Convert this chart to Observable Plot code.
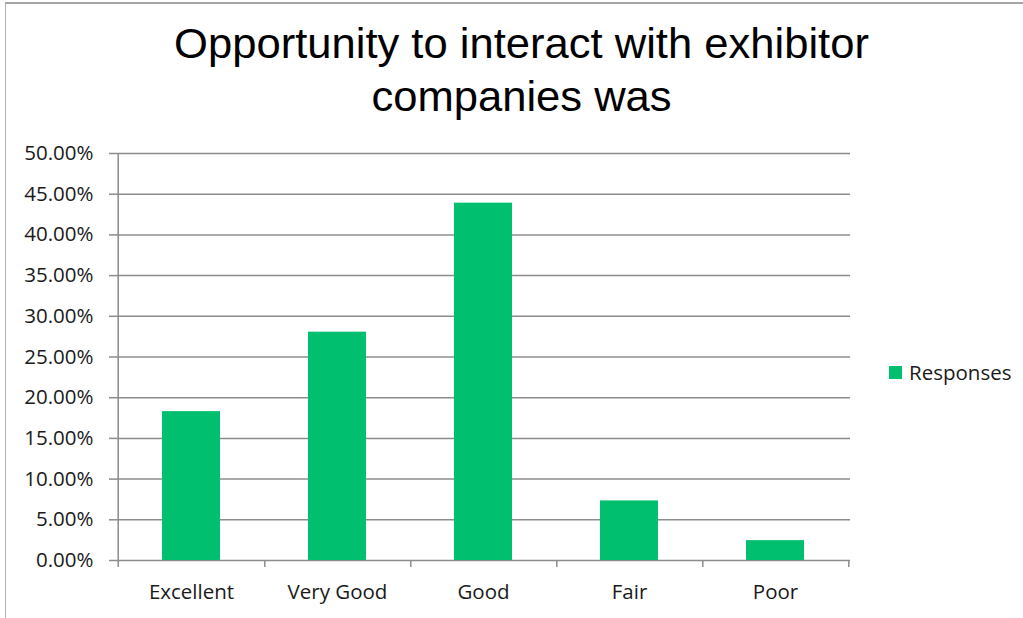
<!DOCTYPE html>
<html>
<head>
<meta charset="utf-8">
<script src="https://cdn.jsdelivr.net/npm/d3@7"></script>
<script src="https://cdn.jsdelivr.net/npm/@observablehq/plot@0.6"></script>
<style>
  html, body { margin: 0; padding: 0; background: #fff; }
  #wrap { position: relative; width: 1023px; height: 618px; overflow: hidden; background: #fff; }
  #frame { position: absolute; left: 5px; top: 2px; width: 1030px; height: 640px;
           border-top: 2px solid #a6a6a6; border-left: 1.5px solid #b0b0b0; box-sizing: border-box; }
  #title { position: absolute; left: 0; top: 18px; width: 1043px; text-align: center;
           font-family: "Liberation Sans", Arial, sans-serif; font-size: 42px; line-height: 52.5px; color: #000;
           transform: scaleX(1.037); transform-origin: 521px 0; }
  #chart { position: absolute; left: 0; top: 130px; }
  #legend { position: absolute; left: 889px; top: 358px; font-family: "Open Sans", sans-serif;
            font-size: 20.5px; color: #1a1a1a; display: flex; align-items: center; }
  #legend .sw { width: 13px; height: 13px; margin-right: 7px; }
</style>
</head>
<body>
<div id="wrap">
  <div id="frame"></div>
  <div id="title"></div>
  <div id="chart"></div>
  <div id="legend"></div>
</div>
<script>
const titleLines = ["Opportunity to interact with exhibitor", "companies was"];
const categories = ["Excellent", "Very Good", "Good", "Fair", "Poor"];
const responses = [0.1829, 0.2805, 0.4390, 0.0732, 0.0244];
const seriesName = "Responses";
const yTicks = [0, 0.05, 0.10, 0.15, 0.20, 0.25, 0.30, 0.35, 0.40, 0.45, 0.50];

const barColor = "#00bf6f";
const gridColor = "#8c8c8c";
const textColor = "#1a1a1a";

const data = categories.map((c, i) => ({category: c, value: responses[i]}));

const W = 1023, H = 488;
const mL = 117, mR = 173, mT = 23, mB = 58;
const step = (W - mL - mR) / categories.length;

document.getElementById("title").innerHTML = titleLines.map(t => `<div>${t}</div>`).join("");

const chart = Plot.plot({
  width: W,
  height: H,
  marginLeft: mL,
  marginRight: mR,
  marginTop: mT,
  marginBottom: mB,
  style: {fontFamily: "'Open Sans', sans-serif", fontSize: "20.5px", color: textColor, background: "transparent"},
  x: {domain: categories, paddingInner: 0.6, paddingOuter: 0.3, label: null},
  y: {domain: [0, 0.5], label: null},
  marks: [
    Plot.gridY(yTicks, {stroke: gridColor, strokeOpacity: 1, strokeWidth: 1.5}),
    Plot.axisY(yTicks, {tickFormat: d3.format(".2%"), tickSize: 8, tickPadding: 16, stroke: gridColor, strokeWidth: 1.5, fill: textColor, fontSize: 20.5}),
    Plot.axisX({tickSize: 0, tickPadding: 24, fill: textColor, fontSize: 20.5}),
    Plot.barY(data, {x: "category", y: "value", fill: barColor}),
    // axis line (left boundary) and category boundary ticks
    Plot.ruleX([categories[0]], {x: d => d, y1: 0.5, y2: 0, dx: -step / 2, insetBottom: -7, stroke: gridColor, strokeWidth: 1.5}),
    Plot.ruleX(categories, {x: d => d, y1: 0, y2: 0, dx: step / 2, insetBottom: -7, stroke: gridColor, strokeWidth: 1.5})
  ]
});
document.getElementById("chart").appendChild(chart);

document.getElementById("legend").innerHTML =
  `<div class="sw" style="background:${barColor}"></div><span>${seriesName}</span>`;
</script>
</body>
</html>
